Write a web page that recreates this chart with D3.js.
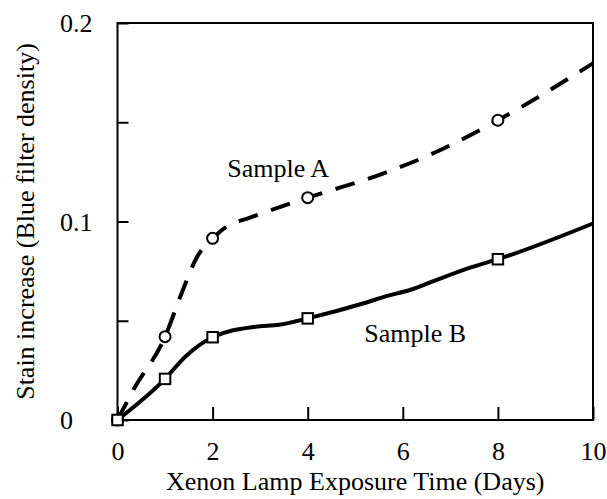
<!DOCTYPE html>
<html lang="en">
<head>
<meta charset="utf-8">
<title>Stain increase vs Xenon exposure</title>
<script src="https://d3js.org/d3.v7.min.js"></script>
<style>
  body { margin: 0; background: #fff; }
</style>
</head>
<body>
<div id="chart"></div>
<script>
// measured days (markers)
const markerDays = [0, 1, 2, 4, 8];
const sampleAMarks = [0, 0.042, 0.0915, 0.112, 0.151];
const sampleBMarks = [0, 0.0207, 0.0417, 0.0512, 0.081];

// points along the drawn curves
const curveADays = [0, 0.33, 1, 1.35, 1.67, 2, 2.33, 2.73, 4, 5.57, 6.7, 8, 10];
const curveAVals = [0, 0.015, 0.042, 0.064, 0.082, 0.0915, 0.098, 0.1015, 0.112, 0.124, 0.135, 0.151, 0.1797];
const curveBDays = [0, 1, 1.43, 2, 2.9, 3.4, 4, 5.18, 5.67, 6.15, 6.7, 7.45, 8, 10];
const curveBVals = [0, 0.0207, 0.032, 0.0417, 0.047, 0.048, 0.0512, 0.0588, 0.0625, 0.0655, 0.0705, 0.077, 0.081, 0.099];

const xTicks = [0, 2, 4, 6, 8, 10];
const yTicks = [0, 0.05, 0.1, 0.15, 0.2];
const yLabels = ["0", "", "0.1", "", "0.2"];

let fontFam = "'Liberation Serif', 'Times New Roman', serif";
let fontSize = "26px";

let width = 607, height = 499;
let margin = {left: 117.5, top: 23, right: 14, bottom: 79};
let w = width - margin.left - margin.right;
let h = height - margin.top - margin.bottom;

let svg = d3.select("#chart").append("svg")
  .attr("width", width)
  .attr("height", height);

let g = svg.append("g")
  .attr("transform", "translate(" + margin.left + "," + margin.top + ")");

let x = d3.scaleLinear().domain([0, 10]).range([0, w]);
let y = d3.scaleLinear().domain([0, 0.2]).range([h, 0]);

// x axis, ticks pointing inward
let xAxis = g.append("g")
  .attr("transform", "translate(0," + h + ")")
  .call(d3.axisBottom(x).tickValues(xTicks).tickSizeInner(-13).tickSizeOuter(0).tickFormat(d3.format("d")));
xAxis.attr("font-family", null).attr("font-size", null);
xAxis.select(".domain").remove();
xAxis.selectAll("line").attr("stroke", "#000").attr("stroke-width", 2);
xAxis.selectAll("text")
  .attr("y", 40).attr("dy", null)
  .style("font-family", fontFam)
  .style("font-size", fontSize);

// y axis
let yAxis = g.append("g")
  .call(d3.axisLeft(y).tickValues(yTicks).tickSizeInner(-11).tickSizeOuter(0).tickFormat((d, i) => yLabels[i]));
yAxis.attr("font-family", null).attr("font-size", null);
yAxis.select(".domain").remove();
yAxis.selectAll("line").attr("stroke", "#000").attr("stroke-width", 2);
yAxis.selectAll("text")
  .attr("x", 60 - margin.left)
  .attr("dy", "0.33em")
  .attr("text-anchor", "start")
  .style("font-family", fontFam)
  .style("font-size", fontSize);

// frame
g.append("rect")
  .attr("x", 0).attr("y", 0)
  .attr("width", w).attr("height", h)
  .attr("fill", "none")
  .attr("stroke", "#000")
  .attr("stroke-width", 2);

let line = d3.line()
  .x(d => x(d[0]))
  .y(d => y(d[1]))
  .curve(d3.curveMonotoneX);

// Sample A (dashed)
g.append("path")
  .datum(d3.zip(curveADays, curveAVals))
  .attr("d", line)
  .attr("fill", "none")
  .attr("stroke", "#000")
  .attr("stroke-width", 4)
  .attr("stroke-dasharray", "20,14");

// Sample B (solid)
g.append("path")
  .datum(d3.zip(curveBDays, curveBVals))
  .attr("d", line)
  .attr("fill", "none")
  .attr("stroke", "#000")
  .attr("stroke-width", 4);

g.selectAll(".markA")
  .data(d3.zip(markerDays, sampleAMarks))
  .enter()
  .append("circle")
  .attr("class", "markA")
  .attr("cx", d => x(d[0]))
  .attr("cy", d => y(d[1]))
  .attr("r", 5.5)
  .attr("fill", "#fff")
  .attr("stroke", "#000")
  .attr("stroke-width", 2);

let sq = 10.5;
g.selectAll(".markB")
  .data(d3.zip(markerDays, sampleBMarks))
  .enter()
  .append("rect")
  .attr("class", "markB")
  .attr("x", d => x(d[0]) - sq / 2)
  .attr("y", d => y(d[1]) - sq / 2)
  .attr("width", sq)
  .attr("height", sq)
  .attr("fill", "#fff")
  .attr("stroke", "#000")
  .attr("stroke-width", 2);

// series labels
g.append("text")
  .attr("x", x(3.38)).attr("y", 177 - margin.top)
  .attr("text-anchor", "middle")
  .style("font-family", fontFam)
  .style("font-size", fontSize)
  .text("Sample A");

g.append("text")
  .attr("x", x(6.26)).attr("y", 342 - margin.top)
  .attr("text-anchor", "middle")
  .style("font-family", fontFam)
  .style("font-size", fontSize)
  .text("Sample B");

// axis titles
svg.append("text")
  .attr("x", margin.left + w / 2)
  .attr("y", 490)
  .attr("text-anchor", "middle")
  .style("font-family", fontFam)
  .style("font-size", fontSize)
  .text("Xenon Lamp Exposure Time (Days)");

svg.append("text")
  .attr("transform", "translate(34," + (margin.top + h / 2) + ") rotate(-90)")
  .attr("text-anchor", "middle")
  .style("font-family", fontFam)
  .style("font-size", fontSize)
  .text("Stain increase (Blue filter density)");
</script>
</body>
</html>
